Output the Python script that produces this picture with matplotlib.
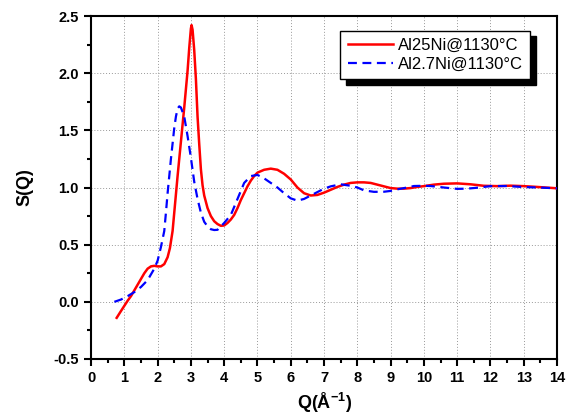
import matplotlib
matplotlib.use("Agg")
import matplotlib.pyplot as plt
from matplotlib.ticker import MultipleLocator, FormatStrFormatter

plt.rcParams["font.family"] = ["Liberation Sans", "DejaVu Sans"]
plt.rcParams["mathtext.fontset"] = "custom"
plt.rcParams["mathtext.bf"] = "Liberation Sans:bold"
plt.rcParams["mathtext.rm"] = "Liberation Sans:bold"

# Al25Ni @ 1130 C (solid red)
q_al25 = [0.77, 0.9, 1.0, 1.1, 1.2, 1.3, 1.4, 1.5, 1.6, 1.7, 1.8, 1.9, 2.0,
          2.1, 2.2, 2.3, 2.37, 2.45, 2.5, 2.6, 2.7, 2.8, 2.9, 2.95, 3.0,
          3.02, 3.05, 3.1, 3.15, 3.2, 3.25, 3.3, 3.35, 3.4, 3.5, 3.6, 3.7,
          3.8, 3.9, 4.0, 4.1, 4.2, 4.3, 4.4, 4.5, 4.6, 4.7, 4.8, 4.9, 5.0,
          5.2, 5.4, 5.6, 5.8, 6.0, 6.2, 6.4, 6.6, 6.8, 7.0, 7.2, 7.4, 7.6,
          7.8, 8.0, 8.2, 8.4, 8.6, 8.8, 9.0, 9.2, 9.4, 9.6, 9.8, 10.0, 10.3,
          10.6, 11.0, 11.4, 11.8, 12.2, 12.6, 13.0, 13.4, 13.8, 14.0]
s_al25 = [-0.14, -0.08, -0.035, 0.01, 0.05, 0.10, 0.15, 0.20, 0.25, 0.29,
          0.31, 0.315, 0.31, 0.31, 0.33, 0.39, 0.47, 0.62, 0.78, 1.10, 1.40,
          1.70, 2.02, 2.22, 2.39, 2.42, 2.38, 2.20, 1.95, 1.62, 1.38, 1.16,
          1.02, 0.93, 0.82, 0.75, 0.705, 0.68, 0.665, 0.668, 0.69, 0.72,
          0.76, 0.82, 0.89, 0.95, 1.01, 1.06, 1.10, 1.13, 1.155, 1.165,
          1.155, 1.12, 1.07, 1.00, 0.95, 0.93, 0.935, 0.955, 0.98, 1.005,
          1.025, 1.04, 1.045, 1.045, 1.04, 1.025, 1.01, 0.995, 0.99, 0.99,
          0.995, 1.005, 1.012, 1.025, 1.033, 1.036, 1.028, 1.015, 1.012,
          1.016, 1.012, 1.005, 0.997, 0.993]

# Al2.7Ni @ 1130 C (dashed blue)
q_al27 = [0.7, 0.9, 1.1, 1.3, 1.5, 1.7, 1.9, 2.0, 2.1, 2.2, 2.25, 2.3, 2.4,
          2.5, 2.55, 2.6, 2.65, 2.7, 2.8, 2.9, 3.0, 3.1, 3.2, 3.3, 3.4, 3.5,
          3.6, 3.7, 3.8, 3.9, 4.0, 4.2, 4.4, 4.6, 4.8, 5.0, 5.2, 5.4, 5.6,
          5.8, 6.0, 6.2, 6.4, 6.6, 6.8, 7.0, 7.2, 7.5, 7.8, 8.0, 8.2, 8.5,
          8.8, 9.0, 9.2, 9.5, 9.7, 10.0, 10.2, 10.6, 11.0, 11.3, 11.6, 12.0,
          12.5, 13.0, 13.5, 14.0]
s_al27 = [0.0, 0.02, 0.05, 0.085, 0.13, 0.19, 0.29, 0.36, 0.48, 0.62, 0.78,
          0.95, 1.25, 1.52, 1.62, 1.69, 1.71, 1.70, 1.62, 1.45, 1.26, 1.05,
          0.90, 0.78, 0.70, 0.66, 0.635, 0.628, 0.63, 0.66, 0.69, 0.76, 0.90,
          1.04, 1.10, 1.11, 1.08, 1.04, 1.00, 0.95, 0.905, 0.885, 0.90, 0.93,
          0.96, 0.99, 1.01, 1.028, 1.015, 1.0, 0.975, 0.962, 0.963, 0.97,
          0.984, 1.0, 1.013, 1.015, 1.013, 1.0, 0.988, 0.99, 0.998, 1.012,
          1.013, 1.004, 0.999, 0.993]

labels = ["Al25Ni@1130°C", "Al2.7Ni@1130°C"]

fig = plt.figure(figsize=(5.69, 4.19), dpi=100)
ax = fig.add_axes([0.16, 0.1432, 0.819, 0.8186])

ax.plot(q_al25, s_al25, color="red", lw=1.8, label=labels[0], zorder=3)
ax.plot(q_al27, s_al27, color="blue", lw=1.6, ls=(0, (4, 2.5)),
        label=labels[1], zorder=3)

ax.set_xlim(0, 14)
ax.set_ylim(-0.5, 2.5)
ax.xaxis.set_major_locator(MultipleLocator(1))
ax.xaxis.set_minor_locator(MultipleLocator(0.5))
ax.yaxis.set_major_locator(MultipleLocator(0.5))
ax.yaxis.set_minor_locator(MultipleLocator(0.25))
ax.yaxis.set_major_formatter(FormatStrFormatter("%.1f"))

ax.grid(True, which="major", color="#999999", ls=(0, (1, 2)), lw=0.7)
for sp in ax.spines.values():
    sp.set_linewidth(1.5)
ax.tick_params(which="major", direction="out", length=5, width=1.5,
               labelsize=10.5, pad=4)
ax.tick_params(which="minor", direction="out", length=3, width=1.5)
for t in ax.get_xticklabels() + ax.get_yticklabels():
    t.set_fontweight("bold")

ax.set_xlabel(r"Q(Å$^{\mathbf{-1}}$)", fontsize=13, fontweight="bold",
              labelpad=4)
ax.set_ylabel("S(Q)", fontsize=13, fontweight="bold", labelpad=14)

leg = ax.legend(loc="upper right", bbox_to_anchor=(0.943, 0.957),
                fontsize=12, frameon=True, fancybox=False, borderaxespad=0,
                handlelength=2.7, handletextpad=0.3, borderpad=0.45,
                labelspacing=0.2,
                shadow={"ox": 4, "oy": -4, "facecolor": "black",
                        "edgecolor": "black", "alpha": 1})
leg.get_frame().set_edgecolor("black")
leg.get_frame().set_linewidth(1.0)
leg.get_frame().set_alpha(1)

fig.savefig("out.png", dpi=100)
